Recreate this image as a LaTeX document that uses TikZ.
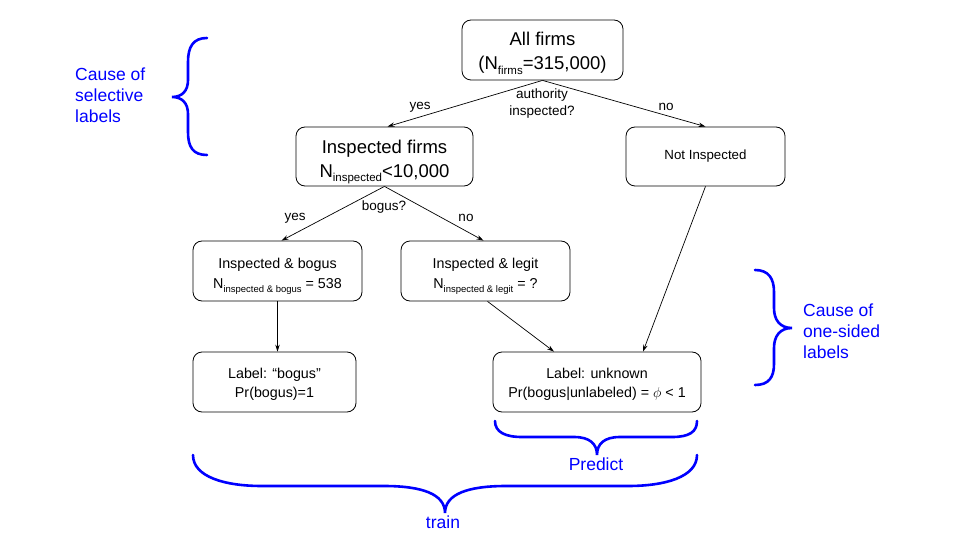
\documentclass[tikz,border=0pt]{standalone}
\usepackage{fontspec}
\setmainfont{Liberation Sans}
\usetikzlibrary{arrows.meta}
\newcommand\bigsub[1]{\smash{\raisebox{-4.5pt}{\fontsize{11.5}{12}\selectfont #1}}}
\newcommand\smlsub[1]{\smash{\raisebox{-3.8pt}{\fontsize{9.5}{10}\selectfont #1}}}
\newcommand\bigtop{\rule{0pt}{19.5pt}}
\newcommand\smltop{\rule{0pt}{15pt}}
\begin{document}
\begin{tikzpicture}[x=1pt,y=-1pt,
  box/.style={draw, rounded corners=9pt, align=center, inner sep=0pt, line width=0.8pt},
  bigtxt/.style={font=\fontsize{18.5}{24}\selectfont},
  smalltxt/.style={font=\fontsize{14.3}{19.8}\selectfont},
  edgetxt/.style={font=\fontsize{13.5}{17}\selectfont, align=center, inner sep=0pt},
  conn/.style={line width=0.7pt, -{Stealth[length=7pt,width=4.5pt]}},
  brace/.style={draw=blue, line width=2.6pt, line cap=round},
  bluetxt/.style={text=blue, font=\fontsize{17.5}{21}\selectfont, inner sep=0pt}]
\useasboundingbox (0,0) rectangle (960,540);

% nodes
\node[box, bigtxt, minimum width=161pt, minimum height=60pt] (all) at (542.5,50)
  {\bigtop All firms\\(N\bigsub{firms}=315,000)};
\node[box, bigtxt, minimum width=177pt, minimum height=59pt] (insp) at (384.5,156.5)
  {\bigtop Inspected firms\\N\bigsub{inspected}<10,000};
\node[box, smalltxt, font=\fontsize{13.3}{18}\selectfont, minimum width=159pt, minimum height=59pt] (notin) at (705.5,156.5)
  {Not Inspected};
\node[box, smalltxt, minimum width=169pt, minimum height=60pt] (bogus) at (277.5,271)
  {\smltop Inspected \& bogus\\N\smlsub{inspected \& bogus} = 538};
\node[box, smalltxt, minimum width=169pt, minimum height=60pt] (legit) at (485.5,271)
  {\smltop Inspected \& legit\\N\smlsub{inspected \& legit} = ?};
\node[box, smalltxt, minimum width=163pt, minimum height=60pt] (lblb) at (274.5,382)
  {\smltop Label: “bogus”\\Pr(bogus)=1};
\node[box, smalltxt, minimum width=208pt, minimum height=60pt] (lblu) at (597,382)
  {\smltop Label: unknown\\Pr(bogus|unlabeled) = $\phi$ < 1};

% connectors
\draw[conn] (all.south) -- ([xshift=3pt]insp.north);
\draw[conn] (all.south) -- (notin.north);
\draw[conn] (insp.south) -- ([xshift=4pt]bogus.north);
\draw[conn] (insp.south) -- ([xshift=-2pt]legit.north);
\draw[conn] (bogus.south) -- (bogus.south |- lblb.north);
\draw[conn] ([xshift=2pt]legit.south) -- ([xshift=-43pt]lblu.north);
\draw[conn] (notin.south) -- ([xshift=46pt]lblu.north);

% edge labels
\node[edgetxt] (yes1) at (420,107) {yes};
\node[edgetxt] (no1) at (666,107) {no};
\node[edgetxt] (q1) at (542,104) {authority\\inspected?};
\node[edgetxt] (yes2) at (295,218) {yes};
\node[edgetxt] (q2) at (384,207) {bogus?};
\node[edgetxt] (no2) at (466,218) {no};

% braces
\draw[brace] (207,38) .. controls (193,38) and (188,47) .. (188,62) -- (188,80)
  .. controls (188,91) and (182,97) .. (172,97)
  .. controls (182,97) and (188,103) .. (188,114) -- (188,132)
  .. controls (188,147) and (193,155) .. (207,155);
\draw[brace] (755,270) .. controls (769,270) and (774,279) .. (774,292) -- (774,308)
  .. controls (774,320) and (780,328) .. (792,328)
  .. controls (780,328) and (774,336) .. (774,348) -- (774,364)
  .. controls (774,377) and (769,385) .. (755,385);
\draw[brace] (495,421) .. controls (495,432) and (505,437) .. (522,437) -- (574,437)
  .. controls (590,437) and (597,444) .. (597,455)
  .. controls (597,444) and (604,437) .. (620,437) -- (672,437)
  .. controls (689,437) and (697,432) .. (697,421);
\draw[brace] (193,455) .. controls (193,477) and (225,486) .. (262,486) -- (384,486)
  .. controls (422,486) and (445,494) .. (445,513)
  .. controls (445,494) and (468,486) .. (506,486) -- (628,486)
  .. controls (665,486) and (697,477) .. (697,455);

% blue labels
\node[bluetxt, anchor=west, align=left] (sel) at (75,95) {Cause of\\selective\\labels};
\node[bluetxt, anchor=west, align=left] (one) at (803,331) {Cause of\\one-sided\\labels};
\node[bluetxt] (pred) at (596,464) {Predict};
\node[bluetxt] (train) at (443,522) {train};
\end{tikzpicture}
\end{document}
